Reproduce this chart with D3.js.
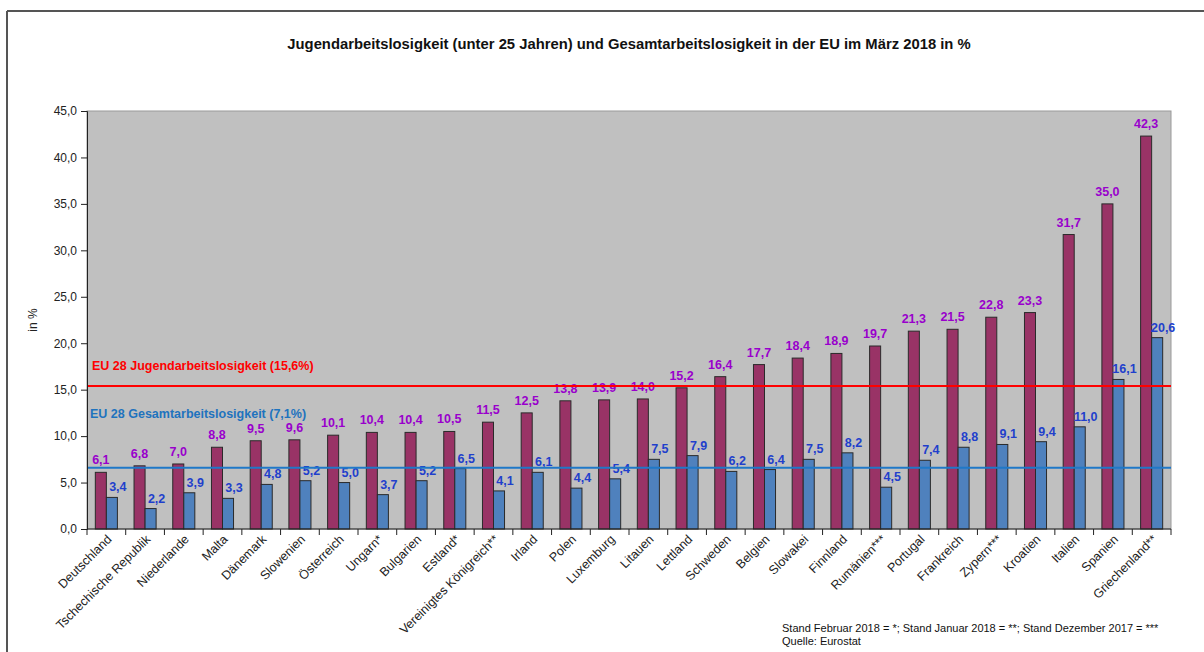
<!DOCTYPE html>
<html><head><meta charset="utf-8">
<script src="https://cdn.jsdelivr.net/npm/d3@7"></script>
<style>
html,body{margin:0;padding:0;background:#fff;}
svg{display:block;font-family:"Liberation Sans",Arial,sans-serif;}
</style></head>
<body>
<svg id="chart" width="1204" height="652"></svg>
<script>
const categories = ["Deutschland","Tschechische Republik","Niederlande","Malta","Dänemark","Slowenien","Österreich","Ungarn*","Bulgarien","Estland*","Vereinigtes Königreich**","Irland","Polen","Luxemburg","Litauen","Lettland","Schweden","Belgien","Slowakei","Finnland","Rumänien***","Portugal","Frankreich","Zypern***","Kroatien","Italien","Spanien","Griechenland**"];
const youthValues = [6.1,6.8,7.0,8.8,9.5,9.6,10.1,10.4,10.4,10.5,11.5,12.5,13.8,13.9,14.0,15.2,16.4,17.7,18.4,18.9,19.7,21.3,21.5,22.8,23.3,31.7,35.0,42.3];
const totalValues = [3.4,2.2,3.9,3.3,4.8,5.2,5.0,3.7,5.2,6.5,4.1,6.1,4.4,5.4,7.5,7.9,6.2,6.4,7.5,8.2,4.5,7.4,8.8,9.1,9.4,11.0,16.1,20.6];
const yTicks = [0,5,10,15,20,25,30,35,40,45];
const refLines = [
  {name:"EU 28 Jugendarbeitslosigkeit (15,6%)", value:15.4, color:"#ff0000"},
  {name:"EU 28 Gesamtarbeitslosigkeit (7,1%)", value:6.6, color:"#1f78c8"}
];
const titleText = "Jugendarbeitslosigkeit (unter 25 Jahren) und Gesamtarbeitslosigkeit in der EU im März 2018 in %";
const footnotes = ["Stand Februar 2018 = *; Stand Januar 2018 = **; Stand Dezember 2017 = ***","Quelle: Eurostat"];

const svg = d3.select("#chart");
const L = 87, R = 1171, T = 111, B = 529;
const fmt = v => d3.format(".1f")(v).replace(".", ",");

const x = d3.scaleBand().domain(categories).range([L, R]).padding(0);
const bw = x.bandwidth();
const inner = d3.scaleBand().domain(["youth","total"]).range([bw*0.215, bw*0.785]).padding(0);
const y = d3.scaleLinear().domain([0,45]).range([B, T]);

// frame
svg.append("line").attr("x1",7).attr("x2",1204).attr("y1",11).attr("y2",11).attr("stroke","#555").attr("stroke-width",2);
svg.append("line").attr("x1",7).attr("x2",7).attr("y1",11).attr("y2",652).attr("stroke","#555").attr("stroke-width",2);

// title
svg.append("text").attr("x",629).attr("y",49).attr("text-anchor","middle")
  .attr("font-size","14.8px").attr("font-weight","bold").attr("fill","#111").text(titleText);

// plot background
svg.append("rect").attr("x",L).attr("y",T).attr("width",R-L).attr("height",B-T)
  .attr("fill","#c0c0c0").attr("stroke","#9a9a9a").attr("stroke-width",1);

// bars
const g = svg.append("g");
categories.forEach((c,i)=>{
  g.append("rect").attr("x", x(c)+inner("youth")).attr("y", y(youthValues[i]))
    .attr("width", inner.bandwidth()).attr("height", y(0)-y(youthValues[i]))
    .attr("fill","#993366").attr("stroke","#2a2a2a").attr("stroke-width",1);
  g.append("rect").attr("x", x(c)+inner("total")).attr("y", y(totalValues[i]))
    .attr("width", inner.bandwidth()).attr("height", y(0)-y(totalValues[i]))
    .attr("fill","#4f81bd").attr("stroke","#2a2a2a").attr("stroke-width",1);
});

// value labels
categories.forEach((c,i)=>{
  g.append("text").attr("x", x(c)+inner("youth")+inner.bandwidth()/2).attr("y", y(youthValues[i])-8)
    .attr("text-anchor","middle").attr("font-size","12.5px").attr("font-weight","bold")
    .attr("fill","#9900cc").text(fmt(youthValues[i]));
  g.append("text").attr("x", x(c)+inner("total")+inner.bandwidth()/2+6).attr("y", y(totalValues[i])-6)
    .attr("text-anchor","middle").attr("font-size","12.5px").attr("font-weight","bold")
    .attr("fill","#1f3fcc").text(fmt(totalValues[i]));
});

// reference lines
refLines.forEach(r=>{
  svg.append("line").attr("x1",L).attr("x2",R).attr("y1",y(r.value)).attr("y2",y(r.value))
    .attr("stroke",r.color).attr("stroke-width",2);
});
svg.append("text").attr("x",92).attr("y",y(refLines[0].value)-16).attr("font-size","12.5px")
  .attr("font-weight","bold").attr("fill",refLines[0].color).text(refLines[0].name);
svg.append("text").attr("x",90).attr("y",y(refLines[1].value)-50).attr("font-size","12.5px")
  .attr("font-weight","bold").attr("fill","#1e73be").text(refLines[1].name);

// y axis
const yAxis = d3.axisLeft(y).tickValues(yTicks).tickFormat(fmt).tickSize(6).tickPadding(4);
const ya = svg.append("g").attr("transform",`translate(${L},0)`).call(yAxis);
ya.select(".domain").attr("stroke","#222");
ya.selectAll(".tick line").attr("stroke","#222");
ya.selectAll("text").attr("font-size","12px").attr("font-family","Liberation Sans, Arial, sans-serif").attr("fill","#222");

// x axis
const xa = svg.append("g").attr("transform",`translate(0,${B})`);
xa.append("line").attr("x1",L).attr("x2",R).attr("stroke","#222");
const bounds = categories.map(c=>x(c)).concat([R]);
xa.selectAll("line.tk").data(bounds).enter().append("line").attr("class","tk")
  .attr("x1",d=>d).attr("x2",d=>d).attr("y1",0).attr("y2",6).attr("stroke","#222");
xa.selectAll("text").data(categories).enter().append("text")
  .attr("transform",d=>`translate(${x(d)+bw/2+6},${11}) rotate(-45)`)
  .attr("text-anchor","end").attr("font-size","12.5px").attr("fill","#222").text(d=>d);

// y title
svg.append("text").attr("transform","translate(37,320) rotate(-90)").attr("text-anchor","middle")
  .attr("font-size","12px").attr("fill","#222").text("in %");

// footnotes
footnotes.forEach((t,i)=>{
  svg.append("text").attr("x",782).attr("y",632+i*13).attr("font-size","11px").attr("fill","#111").text(t);
});
</script>
</body></html>
